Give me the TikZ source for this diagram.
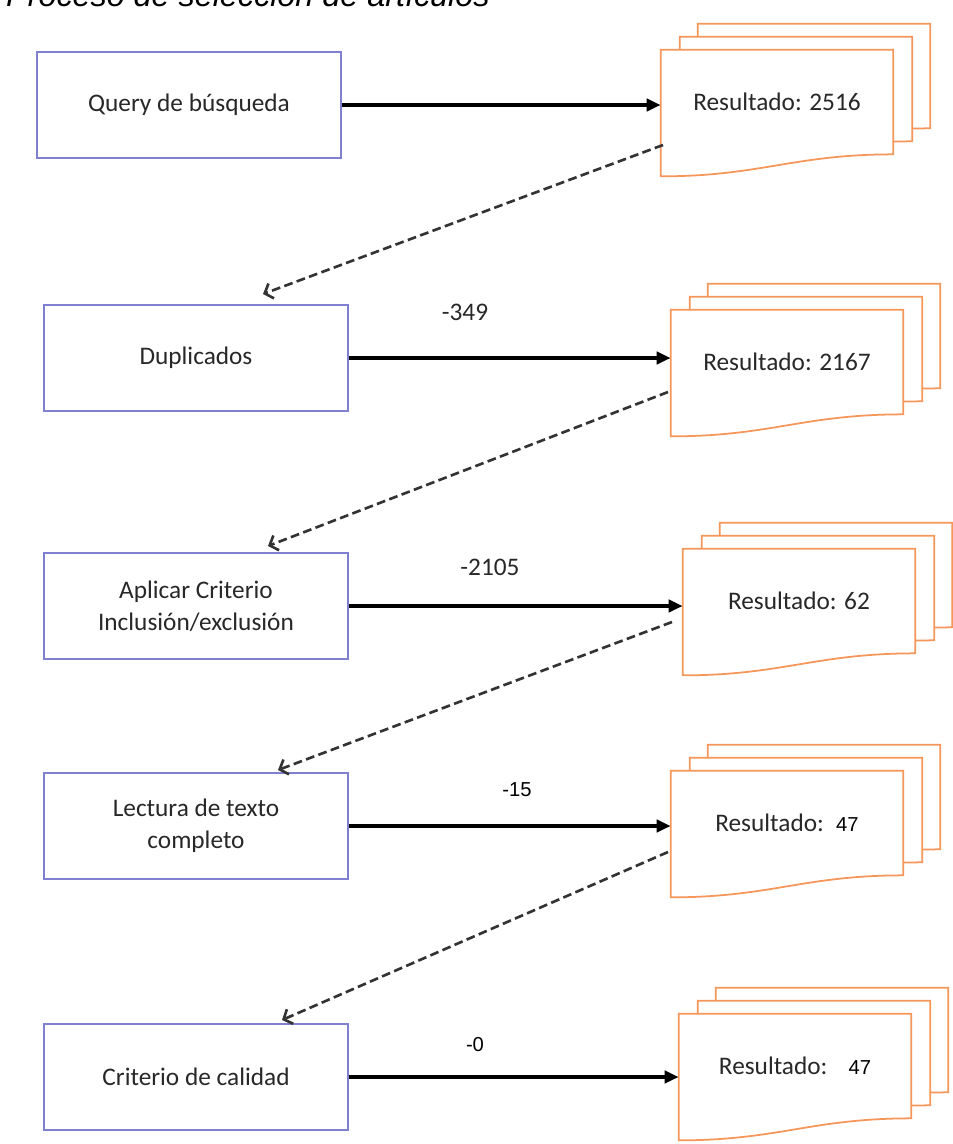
\documentclass[tikz,border=0pt]{standalone}
\usepackage{fontspec}
\setmainfont{Carlito}
\newfontfamily\arialfont{Liberation Sans}
\usetikzlibrary{arrows.meta,calc,backgrounds}
\definecolor{boxblue}{RGB}{128,128,208}
\definecolor{docorange}{RGB}{245,150,90}
\definecolor{txtgray}{RGB}{40,40,40}
\tikzset{stage/.style={draw=boxblue,line width=0.9pt,fill=white,minimum width=6.08cm,minimum height=2.12cm,align=center,text=txtgray,font=\fontsize{14.4}{18}\selectfont}}
\tikzset{result/.style={minimum width=4.64cm,minimum height=2.08cm,inner sep=0pt,text=txtgray,font=\fontsize{14.4}{18}\selectfont}}
\tikzset{docline/.style={draw=docorange,line width=1pt,fill=white}}
\tikzset{flow/.style={-{Triangle[length=8pt,width=7pt]},line width=2pt}}
\tikzset{back/.style={-{Straight Barb[length=4pt,width=9pt]},dash pattern=on 5pt off 2.5pt,line width=1.5pt,draw=black!80}}
\tikzset{drop/.style={text=txtgray,font=\fontsize{14.4}{18}\selectfont}}
\tikzset{dropa/.style={font=\arialfont\fontsize{11.5}{14}\selectfont}}

% one page of the stack, shifted by (#2,#3)
\newcommand{\docpage}[3]{%
  \draw[docline] ($(#1.north west)+(#2,#3)$) -- ($(#1.north east)+(#2,#3)$)
    -- ($(#1.south east)+(#2,#3)$)
    .. controls ($(#1.south east)+(#2-100,#3)$) and ($(#1.south west)+(#2+100,#3+22)$)
    .. ($(#1.south west)+(#2,#3+22)$) -- cycle;}
\newcommand{\multidoc}[1]{\docpage{#1}{37}{-26}\docpage{#1}{19}{-13}\docpage{#1}{0}{0}}

\begin{document}
\begin{tikzpicture}[x=0.02cm,y=-0.02cm]
    \useasboundingbox (0,0) rectangle (953,1144);
    \node[anchor=base west,font=\arialfont\itshape\fontsize{18.4}{22}\selectfont] (title) at (0,6) {Proceso de selección de artículos};

    % stages
    \node[stage] (qry) at (189,105) {Query de búsqueda};
    \node[stage] (dup) at (196,358) {Duplicados};
    \node[stage] (inc) at (196,606) {Aplicar Criterio\\Inclusión/exclusión};
    \node[stage] (lec) at (196,826) {Lectura de texto\\completo};
    \node[stage] (cal) at (196,1077) {Criterio de calidad};

    % results
    \node[result] (rqry) at (777,102) {Resultado: 2516};
    \node[result] (rdup) at (787,362) {Resultado: 2167};
    \node[result] (rinc) at (799,601) {Resultado: 62};
    \node[result] (rlec) at (787,823) {Resultado:\hspace{7pt}{\arialfont\fontsize{11.5}{14}\selectfont\color{black}47}};
    \node[result] (rcal) at (795,1066) {Resultado:\hspace{12pt}{\arialfont\fontsize{11.5}{14}\selectfont\color{black}47}};

    \begin{scope}[on background layer]
        \fill[white] (0,0) rectangle (953,1144);
        \foreach \r in {rqry,rdup,rinc,rlec,rcal} {\multidoc{\r}}
    \end{scope}

    % removed counts
    \node[drop] (n2) at (465,312) {-349};
    \node[drop] (n3) at (490,567) {-2105};
    \node[dropa] (n4) at (517,790) {-15};
    \node[dropa] (n5) at (475,1045) {-0};

    \foreach \a/\b in {qry/rqry,dup/rdup,inc/rinc,lec/rlec,cal/rcal}
        \draw[flow] (\a.east) -- (\a.east -| \b.west);

    % back to the next stage
    \coordinate (s1) at (663,145); \coordinate (t1) at (263,294);
    \coordinate (s2) at (668,392); \coordinate (t2) at (268,546);
    \coordinate (s3) at (672,622); \coordinate (t3) at (278,770);
    \coordinate (s4) at (668,852); \coordinate (t4) at (282,1020);
    \foreach \i in {1,...,4}
        \draw[back] (s\i) -- (t\i);
\end{tikzpicture}
\end{document}
